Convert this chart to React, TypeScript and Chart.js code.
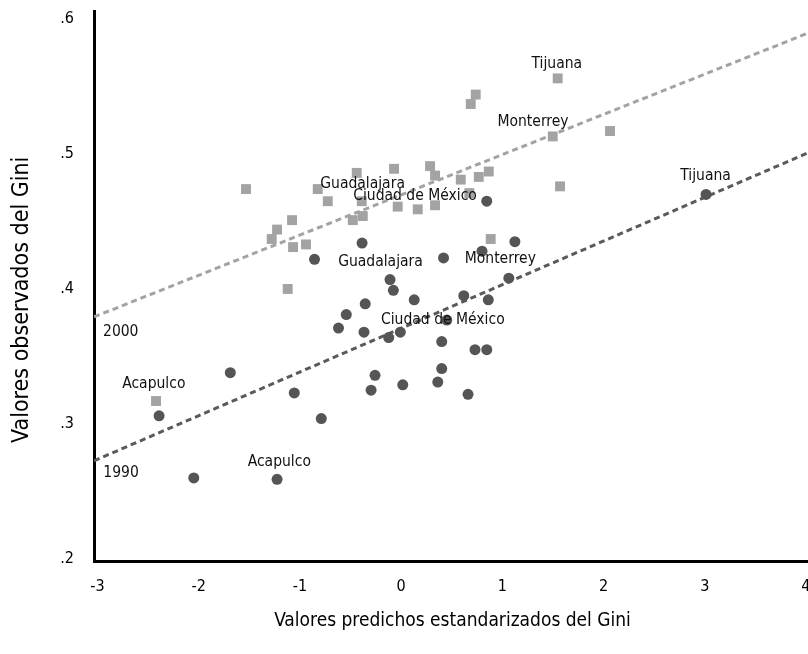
import React, { useEffect, useRef } from 'react';
import { Chart, registerables } from 'chart.js';

Chart.register(...registerables);

// Axis ticks
const xTicks = [-3, -2, -1, 0, 1, 2, 3, 4];
const yTicks = [0.2, 0.3, 0.4, 0.5, 0.6];

// 2000 observations (squares)
const x2000 = [1.547, 0.737, 0.688, 1.498, 2.064, 1.570, -0.439, -0.070, 0.286, 0.335, 0.589, 0.767, 0.866, 0.674, -0.034, 0.164, 0.335, -0.389, -0.478, -0.379, -1.533, -0.824, -0.725, -1.078, -1.226, -1.279, -1.068, -0.940, -1.121, 0.885, -2.422];
const y2000 = [0.556, 0.544, 0.537, 0.513, 0.517, 0.476, 0.486, 0.489, 0.491, 0.484, 0.481, 0.483, 0.487, 0.471, 0.461, 0.459, 0.462, 0.465, 0.451, 0.454, 0.474, 0.474, 0.465, 0.451, 0.444, 0.437, 0.431, 0.433, 0.400, 0.437, 0.317];

// 1990 observations (circles)
const x1990 = [3.013, 0.846, -0.386, -0.856, 0.419, 0.799, 1.124, -0.110, -0.077, 0.129, -0.355, -0.542, -0.619, 0.619, 0.861, 1.064, 0.451, -0.367, -0.123, -0.008, 0.401, 0.730, 0.846, 0.401, -0.258, 0.362, 0.016, -0.297, 0.661, -1.056, -1.688, -0.789, -2.392, -2.049, -1.226];
const y1990 = [0.470, 0.465, 0.434, 0.422, 0.423, 0.428, 0.435, 0.407, 0.399, 0.392, 0.389, 0.381, 0.371, 0.395, 0.392, 0.408, 0.377, 0.368, 0.364, 0.368, 0.361, 0.355, 0.355, 0.341, 0.336, 0.331, 0.329, 0.325, 0.322, 0.323, 0.338, 0.304, 0.306, 0.260, 0.259];

// Fitted lines (endpoints)
const fitX = [-3.035, 4.05];
const fit2000Y = [0.3793, 0.5904];
const fit1990Y = [0.2727, 0.5018];

// Annotations
const labelTexts = ['Tijuana', 'Monterrey', 'Guadalajara', 'Ciudad de México', 'Acapulco', '2000', 'Tijuana', 'Monterrey', 'Guadalajara', 'Ciudad de México', 'Acapulco', '1990'];
const labelX = [1.538, 1.303, -0.381, 0.137, -2.444, -2.946, 3.008, 0.980, -0.204, 0.412, -1.204, -2.943];
const labelY = [0.567, 0.524, 0.478, 0.469, 0.330, 0.368, 0.484, 0.422, 0.420, 0.377, 0.272, 0.264];
const labelAlign = ['center', 'center', 'center', 'center', 'center', 'left', 'center', 'center', 'center', 'center', 'center', 'left'];

const xTitle = 'Valores predichos estandarizados del Gini';
const yTitle = 'Valores observados del Gini';
const yTitleValue = 0.392; // vertical centre of the y title, in data units

const FONT = "'Liberation Sans Narrow', 'DejaVu Sans Condensed', 'Arial Narrow', sans-serif";

const labelPlugin = {
  id: 'cityLabels',
  afterDatasetsDraw(chart: any) {
    const { ctx, scales } = chart;
    const xs = scales.x;
    const ys = scales.y;
    ctx.save();
    ctx.font = `15.5px ${FONT}`;
    ctx.fillStyle = '#111';
    ctx.textBaseline = 'middle';
    labelTexts.forEach((t, i) => {
      ctx.textAlign = labelAlign[i];
      ctx.fillText(t, xs.getPixelForValue(labelX[i]), ys.getPixelForValue(labelY[i]));
    });
    ctx.restore();
  },
  afterDraw(chart: any) {
    const { ctx, scales } = chart;
    const ys = scales.y;
    ctx.save();
    ctx.font = `23px ${FONT}`;
    ctx.fillStyle = '#000';
    ctx.textAlign = 'center';
    ctx.textBaseline = 'middle';
    ctx.translate(ys.left + 22, ys.getPixelForValue(yTitleValue));
    ctx.rotate(-Math.PI / 2);
    ctx.fillText(yTitle, 0, 0);
    ctx.restore();
  },
};

export default function App() {
  const canvasRef = useRef<HTMLCanvasElement | null>(null);

  useEffect(() => {
    const canvas = canvasRef.current;
    if (!canvas) return;
    const chart = new Chart(canvas, {
      type: 'scatter',
      data: {
        datasets: [
          {
            label: '1990',
            data: x1990.map((v, i) => ({ x: v, y: y1990[i] })),
            pointStyle: 'circle',
            pointRadius: 5.5,
            backgroundColor: '#555555',
            borderWidth: 0,
            order: 1,
          },
          {
            label: '2000',
            data: x2000.map((v, i) => ({ x: v, y: y2000[i] })),
            pointStyle: 'rect',
            pointRadius: 7,
            backgroundColor: '#a3a3a3',
            borderWidth: 0,
            order: 2,
          },
          {
            label: 'Ajuste 2000',
            data: fitX.map((v, i) => ({ x: v, y: fit2000Y[i] })),
            showLine: true,
            pointRadius: 0,
            borderColor: '#a3a3a3',
            borderWidth: 3,
            borderDash: [6, 4],
            order: 3,
          },
          {
            label: 'Ajuste 1990',
            data: fitX.map((v, i) => ({ x: v, y: fit1990Y[i] })),
            showLine: true,
            pointRadius: 0,
            borderColor: '#5a5a5a',
            borderWidth: 3,
            borderDash: [6, 4],
            order: 4,
          },
        ],
      } as any,
      options: {
        responsive: false,
        animation: false,
        devicePixelRatio: 1,
        layout: { padding: { left: 0, top: 11, right: 19, bottom: 0 } },
        plugins: { legend: { display: false }, tooltip: { enabled: false } },
        scales: {
          x: {
            type: 'linear',
            min: -3.035,
            max: 4.05,
            afterBuildTicks: (s: any) => {
              s.ticks = xTicks.map((v) => ({ value: v }));
            },
            afterFit: (s: any) => {
              s.height = 93;
              s.paddingLeft = 0;
              s.paddingRight = 0;
            },
            grid: { display: false, drawTicks: false },
            border: { display: true, color: '#000', width: 3 },
            ticks: {
              autoSkip: false,
              maxRotation: 0,
              padding: 16,
              color: '#000',
              font: { family: FONT, size: 16 },
              callback: (v: any) => String(v),
            },
            title: {
              display: true,
              text: xTitle,
              color: '#000',
              font: { family: FONT, size: 19 },
              padding: { top: 0, bottom: 22 },
            },
          },
          y: {
            type: 'linear',
            min: 0.1985,
            max: 0.6059,
            afterBuildTicks: (s: any) => {
              s.ticks = yTicks.map((v) => ({ value: v }));
            },
            afterFit: (s: any) => {
              s.width = 94;
              s.paddingTop = 0;
              s.paddingBottom = 0;
            },
            grid: { display: false, drawTicks: false },
            border: { display: true, color: '#000', width: 3 },
            ticks: {
              padding: 20,
              color: '#000',
              font: { family: FONT, size: 16 },
              callback: (v: any) => Number(v).toFixed(1).replace(/^0/, ''),
            },
            title: { display: false },
          },
        },
      } as any,
      plugins: [labelPlugin as any],
    });
    return () => chart.destroy();
  }, []);

  return (
    <div style={{ position: 'fixed', left: 0, top: 0, width: 808, height: 654, overflow: 'hidden', background: '#fff' }}>
      <canvas ref={canvasRef} width={830} height={654} style={{ display: 'block', width: 830, height: 654 }} />
    </div>
  );
}
